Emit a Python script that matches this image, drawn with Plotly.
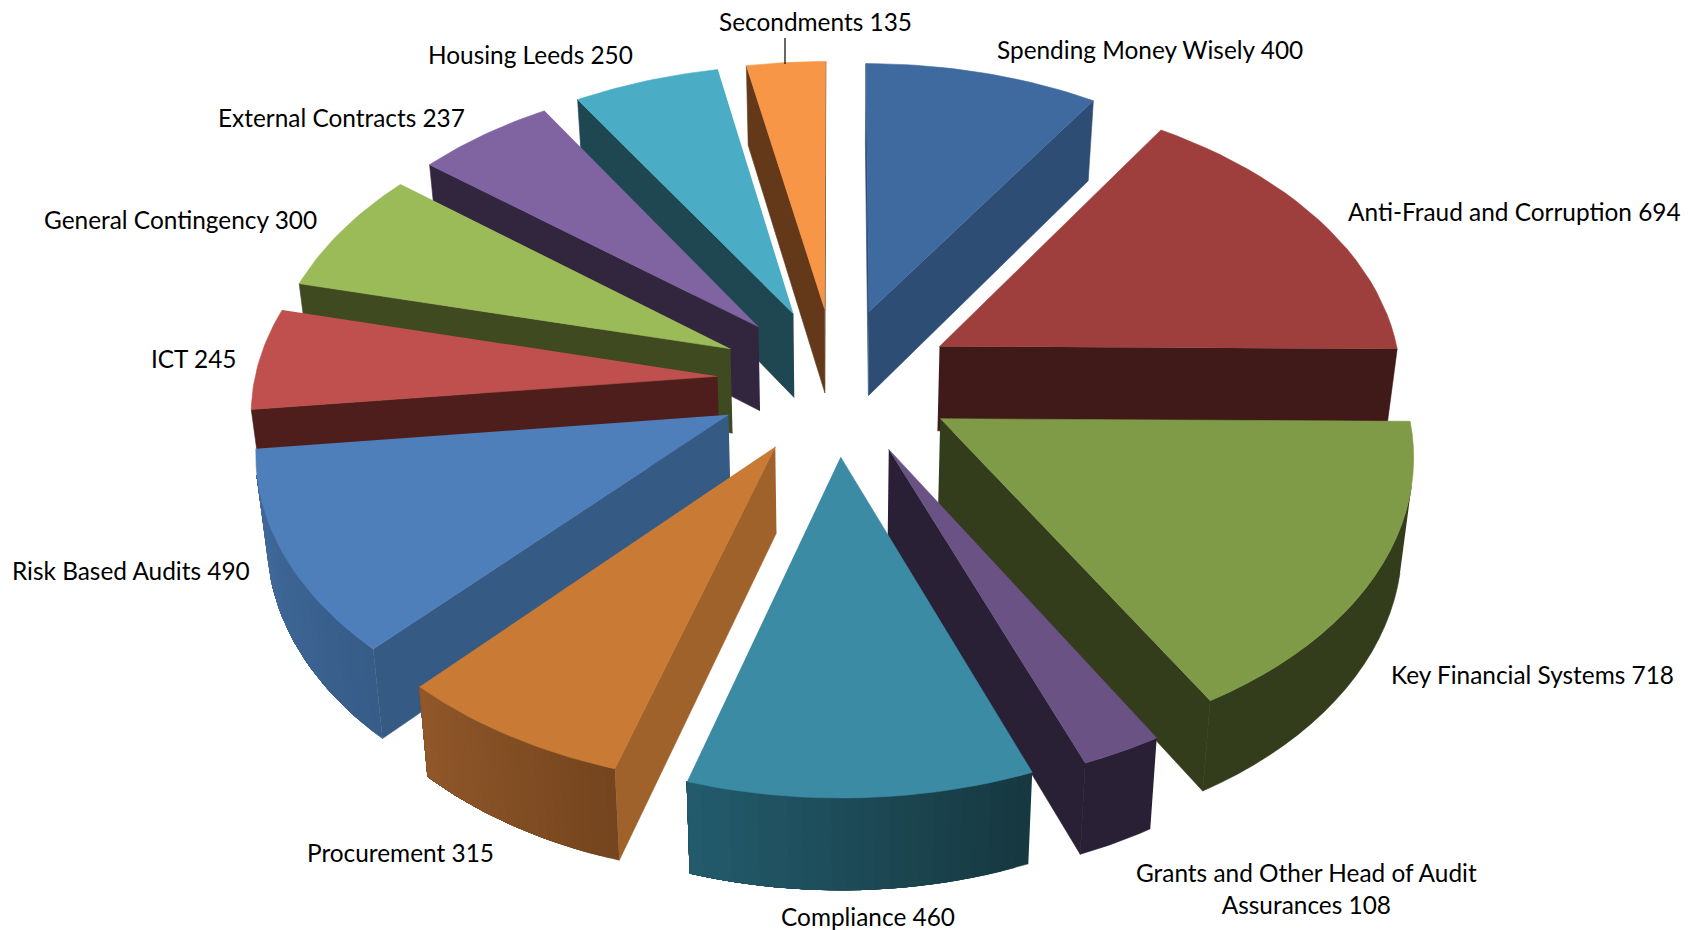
import numpy as np
import plotly.graph_objects as go

categories = ["Spending Money Wisely", "Anti-Fraud and Corruption", "Key Financial Systems",
              "Grants and Other Head of Audit Assurances", "Compliance", "Procurement",
              "Risk Based Audits", "ICT", "General Contingency", "External Contracts",
              "Housing Leeds", "Secondments"]
values = [400, 694, 718, 108, 460, 315, 490, 245, 300, 237, 250, 135]

top_colors = ["#3F6A9F", "#9E3F3D", "#7F9B48", "#6A5285", "#3C8BA5", "#C97B36",
              "#4E7FBB", "#C0504D", "#9BBB59", "#8064A2", "#4BACC6", "#F79646"]
side_colors = ["#2D4D75", "#401A18", "#333C1B", "#2A2035", "#1F4F5E", "#A0622B",
               "#355A84", "#4E1E1D", "#3F4A21", "#32263F", "#1F4751", "#63391A"]
wall_start = ["#2D4D75", "#401A18", "#333C1B", "#2A2035", "#163840", "#74451E",
              "#375C88", "#4E1E1D", "#3F4A21", "#32263F", "#1F4751", "#63391A"]
wall_end = ["#2D4D75", "#401A18", "#333C1B", "#2A2035", "#235B6C", "#90572A",
            "#426C9E", "#4E1E1D", "#3F4A21", "#32263F", "#1F4751", "#63391A"]

# Back-to-front paint order of the slices
paint_order = [0, 11, 10, 9, 8, 7, 1, 6, 2, 5, 3, 4]

# Label anchors in page pixels: centre x, centre y
label_x = [1150, 1514, 1532, 1306, 868, 400, 131, 193, 180, 341, 530, 815]
label_y = [49, 211, 674, 888, 916, 852, 570, 358, 219, 117, 54, 21]

CX, CY = 836, 381
SCALE = 463
TILT = 0.622
PERSP = 0.105
PULL = 0.257
HEIGHT = 85
BOTTOM_SHRINK = 0.98


def project(x, y, z=0.0):
    """Perspective-project plane coordinates (radius 1) at height z in 0..1 below the top."""
    s = 1.0 / (1.0 + PERSP * y)
    shrink = 1.0 - (1.0 - BOTTOM_SHRINK) * z
    px = CX + SCALE * x * s * shrink
    py = CY - SCALE * TILT * y * s + z * HEIGHT * s ** 0.55
    return px, py


def blend(a, b, t):
    ca = [int(a[i:i + 2], 16) for i in (1, 3, 5)]
    cb = [int(b[i:i + 2], 16) for i in (1, 3, 5)]
    return "rgb(%d,%d,%d)" % tuple(round(p + (q - p) * t) for p, q in zip(ca, cb))


def polygon(fig, xs, ys, color):
    fig.add_trace(go.Scatter(x=xs, y=ys, mode="lines", fill="toself", fillcolor=color,
                             line=dict(color=color, width=0.6), hoverinfo="skip",
                             showlegend=False))


def signed_area(xs, ys):
    xs, ys = np.asarray(xs), np.asarray(ys)
    return 0.5 * np.sum(xs * np.roll(ys, -1) - np.roll(xs, -1) * ys)


total = sum(values)
edges = np.cumsum([0] + values) / total * 2 * np.pi

fig = go.Figure()
for i in paint_order:
    a0, a1 = edges[i], edges[i + 1]
    mid = (a0 + a1) / 2
    ox, oy = PULL * np.sin(mid), PULL * np.cos(mid)
    angles = np.linspace(a0, a1, 25)
    rim_x = ox + np.sin(angles)
    rim_y = oy + np.cos(angles)

    # Flat radial faces, only those turned toward the viewer
    for ang, flip in ((a0, 1), (a1, -1)):
        ex, ey = ox + np.sin(ang), oy + np.cos(ang)
        p = [project(ox, oy), project(ex, ey), project(ex, ey, 1), project(ox, oy, 1)]
        xs, ys = [q[0] for q in p], [q[1] for q in p]
        if signed_area(xs, ys) * flip < 0:
            polygon(fig, xs, ys, side_colors[i])

    # Curved outer wall: each band reaches the end of the visible arc and the next
    # one paints over it, so the shade runs across the arc without seams
    visible = []
    for j in range(len(angles) - 1):
        p = [project(rim_x[j], rim_y[j]), project(rim_x[j + 1], rim_y[j + 1]),
             project(rim_x[j + 1], rim_y[j + 1], 1), project(rim_x[j], rim_y[j], 1)]
        if signed_area([q[0] for q in p], [q[1] for q in p]) < 0:
            visible.append(j)
    if visible:
        last = visible[-1] + 2
        uniform = wall_start[i] == wall_end[i]
        for j in visible[:1] if uniform else visible:
            tx, ty = project(rim_x[j:last], rim_y[j:last])
            bx, by = project(rim_x[j:last], rim_y[j:last], 1)
            polygon(fig, np.r_[tx, bx[::-1]], np.r_[ty, by[::-1]],
                    blend(wall_start[i], wall_end[i], j / (len(angles) - 2)))

    # Top face
    px, py = project(np.r_[ox, rim_x], np.r_[oy, rim_y])
    polygon(fig, px, py, top_colors[i])

# Leader line from the Secondments label to its slice
fig.add_trace(go.Scatter(x=[785, 785], y=[38, 64], mode="lines",
                         line=dict(color="#000000", width=1.2), hoverinfo="skip",
                         showlegend=False))

for i, name in enumerate(categories):
    text = f"{name} {values[i]}"
    if name.startswith("Grants"):
        text = f"Grants and Other Head of Audit<br>Assurances {values[i]}"
    fig.add_annotation(x=label_x[i], y=label_y[i], text=text, showarrow=False,
                       font=dict(family="Lato", size=24.4, color="#000000"), align="center")

fig.update_xaxes(visible=False, range=[0, 1688], fixedrange=True)
fig.update_yaxes(visible=False, range=[930, 0], fixedrange=True)
fig.update_layout(width=1688, height=930, margin=dict(l=0, r=0, t=0, b=0),
                  paper_bgcolor="#FFFFFF", plot_bgcolor="#FFFFFF", showlegend=False)
fig.write_html("out.html")
